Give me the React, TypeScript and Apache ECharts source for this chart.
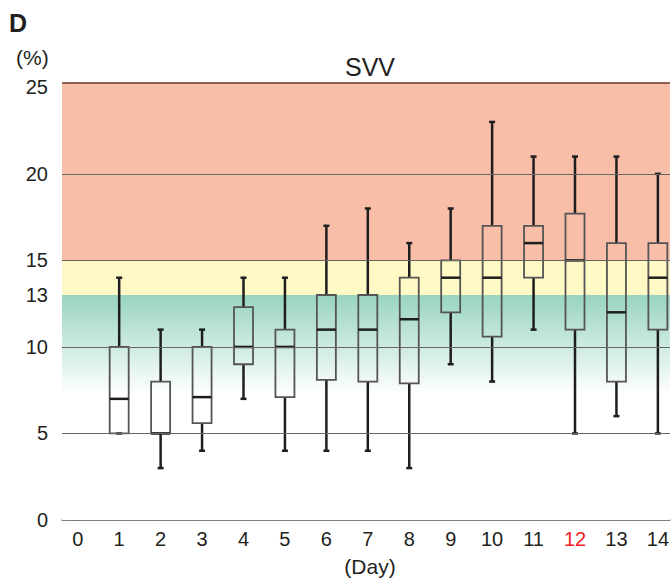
import React, { useEffect, useRef } from "react";
import * as echarts from "echarts";

const days = [1, 2, 3, 4, 5, 6, 7, 8, 9, 10, 11, 12, 13, 14];
const minV = [5, 3, 4, 7, 4, 4, 4, 3, 9, 8, 11, 5, 6, 5];
const q1V = [5, 5, 5.6, 9, 7.1, 8.1, 8, 7.9, 12, 10.6, 14, 11, 8, 11];
const medV = [7, 5, 7.1, 10, 10, 11, 11, 11.6, 14, 14, 16, 15, 12, 14];
const q3V = [10, 8, 10, 12.3, 11, 13, 13, 14, 15, 17, 17, 17.7, 16, 16];
const maxV = [14, 11, 11, 14, 14, 17, 18, 16, 18, 23, 21, 21, 21, 20];
const xTicks = [0, 1, 2, 3, 4, 5, 6, 7, 8, 9, 10, 11, 12, 13, 14];
const yTicks = [0, 5, 10, 13, 15, 20, 25];
const gridLines = [5, 10, 15, 20];
const redDay = 12;

const FONT = "Liberation Sans, Arial, sans-serif";
const TXT = "#231F20";

export default function App() {
  const ref = useRef<HTMLDivElement>(null);
  useEffect(() => {
    if (!ref.current) return;
    const chart = echarts.init(ref.current, null, { renderer: "svg" });
    const boxData = days.map((d, i) => [d, minV[i], q1V[i], medV[i], q3V[i], maxV[i]]);
    chart.setOption({
      animation: false,
      textStyle: { fontFamily: FONT },
      grid: { left: 62, right: 0, top: 83, bottom: 59 },
      xAxis: {
        type: "value",
        min: -0.38,
        max: 14.29,
        splitLine: { show: false },
        axisTick: { show: false },
        axisLine: { show: true, lineStyle: { color: "#555", width: 1.5 } },
        axisLabel: {
          customValues: xTicks,
          fontSize: 20,
          color: TXT,
          margin: 9,
          fontFamily: FONT,
          formatter: (v: number) => (v === redDay ? "{r|" + v + "}" : String(v)),
          rich: { r: { color: "#EE1C24", fontSize: 20, fontFamily: FONT } },
        },
      },
      yAxis: {
        type: "value",
        min: 0,
        max: 25.25,
        splitLine: { show: false },
        axisTick: { show: false },
        axisLine: { show: true, lineStyle: { color: "#555", width: 1.5 } },
        axisLabel: {
          customValues: yTicks,
          fontSize: 20,
          color: TXT,
          margin: 14,
          fontFamily: FONT,
        },
      },
      graphic: [
        { type: "text", left: 9, top: 10, style: { text: "D", font: "bold 25px " + FONT, fill: TXT } },
        { type: "text", x: 16, y: 57, style: { text: "(%)", font: "21px " + FONT, fill: TXT, verticalAlign: "middle" } },
        { type: "text", x: 370, y: 67, style: { text: "SVV", font: "25px " + FONT, fill: TXT, align: "center", verticalAlign: "middle" } },
        { type: "text", x: 370, y: 566, style: { text: "(Day)", font: "21px " + FONT, fill: TXT, align: "center", verticalAlign: "middle" } },
      ],
      series: [
        {
          type: "line",
          data: [],
          silent: true,
          z: 1,
          markArea: {
            silent: true,
            data: [
              [{ yAxis: 15, itemStyle: { color: "#F9BEA8" } }, { yAxis: 25.25 }],
              [{ yAxis: 13, itemStyle: { color: "#FFF9C5" } }, { yAxis: 15 }],
              [
                {
                  yAxis: 0,
                  itemStyle: {
                    color: {
                      type: "linear",
                      x: 0,
                      y: 0,
                      x2: 0,
                      y2: 1,
                      colorStops: [
                        { offset: 0, color: "#98D4C0" },
                        { offset: 0.44, color: "#FFFFFF" },
                        { offset: 1, color: "#FFFFFF" },
                      ],
                    },
                  },
                },
                { yAxis: 13 },
              ],
            ],
          },
        },
        {
          type: "line",
          data: [],
          silent: true,
          z: 2,
          markLine: {
            silent: true,
            symbol: "none",
            label: { show: false },
            data: [
              ...gridLines.map((v) => ({ yAxis: v, lineStyle: { color: "#666", width: 1, type: "solid" } })),
              { yAxis: 25.25, lineStyle: { color: "#6B3526", width: 1.5, type: "solid" } },
            ],
          },
        },
        {
          type: "custom",
          z: 3,
          data: boxData,
          renderItem: (params: any, api: any) => {
            const x = api.value(0);
            const pMin = api.coord([x, api.value(1)]);
            const pQ1 = api.coord([x, api.value(2)]);
            const pMed = api.coord([x, api.value(3)]);
            const pQ3 = api.coord([x, api.value(4)]);
            const pMax = api.coord([x, api.value(5)]);
            const cx = pMed[0];
            const hw = 9.5;
            const cw = 3;
            const whisk = { stroke: "#1E1E1E", lineWidth: 2.5 };
            return {
              type: "group",
              children: [
                { type: "line", shape: { x1: cx, y1: pQ3[1], x2: cx, y2: pMax[1] }, style: whisk },
                { type: "line", shape: { x1: cx - cw, y1: pMax[1], x2: cx + cw, y2: pMax[1] }, style: whisk },
                { type: "line", shape: { x1: cx, y1: pQ1[1], x2: cx, y2: pMin[1] }, style: whisk },
                { type: "line", shape: { x1: cx - cw, y1: pMin[1], x2: cx + cw, y2: pMin[1] }, style: whisk },
                {
                  type: "rect",
                  shape: { x: cx - hw, y: pQ3[1], width: hw * 2, height: pQ1[1] - pQ3[1] },
                  style: { fill: "none", stroke: "#555", lineWidth: 1.8 },
                },
                { type: "line", shape: { x1: cx - hw, y1: pMed[1], x2: cx + hw, y2: pMed[1] }, style: whisk },
              ],
            };
          },
        },
      ],
    });
    return () => chart.dispose();
  }, []);
  return (
    <div
      ref={ref}
      style={{ position: "absolute", left: 0, top: 0, width: 672, height: 579, background: "#fff" }}
    />
  );
}
